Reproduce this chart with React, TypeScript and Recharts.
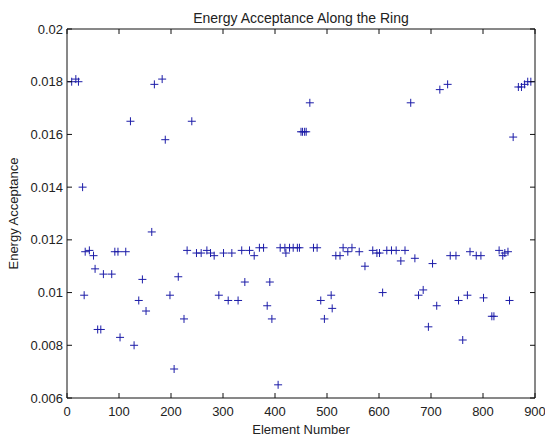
import { ScatterChart, Scatter, XAxis, YAxis } from 'recharts';

// element index along the ring
const elements = [
  9, 17, 22, 30, 33, 35, 43, 51, 54, 59, 65, 70, 86, 92, 98, 102, 113, 122, 129, 138,
  145, 152, 163, 168, 183, 189, 198, 206, 214, 225, 231, 240, 249, 258, 269, 276, 283, 292, 301, 310,
  317, 329, 336, 342, 351, 360, 370, 378, 385, 390, 394, 406, 410, 419, 421, 428, 435, 443, 447, 450,
  453, 457, 460, 467, 474, 481, 488, 495, 508, 510, 517, 525, 531, 540, 548, 562, 573, 588, 596, 601,
  607, 615, 624, 633, 642, 650, 661, 669, 676, 685, 695, 703, 711, 717, 732, 737, 748, 753, 761, 770,
  775, 787, 796, 801, 817, 821, 831, 838, 842, 848, 851, 858, 868, 874, 880, 886, 892,
];

// energy acceptance at each element
const acceptance = [
  0.018, 0.0181, 0.018, 0.014, 0.0099, 0.01155, 0.0116, 0.0114, 0.0109, 0.0086, 0.0086, 0.0107, 0.0107, 0.01155, 0.01155, 0.0083, 0.01155, 0.0165, 0.008, 0.0097,
  0.0105, 0.0093, 0.0123, 0.0179, 0.0181, 0.0158, 0.0099, 0.0071, 0.0106, 0.009, 0.0116, 0.0165, 0.0115, 0.0115, 0.0116, 0.0115, 0.0114, 0.0099, 0.0115, 0.0097,
  0.0115, 0.0097, 0.0116, 0.0104, 0.0116, 0.0114, 0.0117, 0.0117, 0.0095, 0.0104, 0.009, 0.0065, 0.0117, 0.0117, 0.0115, 0.0117, 0.0117, 0.0117, 0.0117, 0.0161,
  0.0161, 0.0161, 0.0161, 0.0172, 0.0117, 0.0117, 0.0097, 0.009, 0.0099, 0.0094, 0.0114, 0.0114, 0.0117, 0.01155, 0.0117, 0.01155, 0.011, 0.0116, 0.0115, 0.0115,
  0.01, 0.0116, 0.0116, 0.0116, 0.0112, 0.0116, 0.0172, 0.0113, 0.0099, 0.0101, 0.0087, 0.0111, 0.0095, 0.0177, 0.0179, 0.0114, 0.0114, 0.0097, 0.0082, 0.0099,
  0.01155, 0.0114, 0.0114, 0.0098, 0.0091, 0.0091, 0.0116, 0.0114, 0.0115, 0.01155, 0.0097, 0.0159, 0.0178, 0.0178, 0.0179, 0.018, 0.018,
];

const xTicks = [0, 100, 200, 300, 400, 500, 600, 700, 800, 900];
const yTicks = [0.006, 0.008, 0.01, 0.012, 0.014, 0.016, 0.018, 0.02];

const data = elements.map((x, i) => ({ x, y: acceptance[i] }));

const FONT = '"Liberation Sans", Arial, sans-serif';
const INK = '#111';
const MARK = '#1c1ca8';
const GAP = 9; // label gap below x axis
const YGAP = 4; // label gap left of y axis
const TICK = 5;

const BottomTick = ({ x, y, payload }: any) => (
  <g>
    <line x1={x} x2={x} y1={y - GAP} y2={y - GAP - TICK} stroke={INK} />
    <text x={x} y={y} dy="0.71em" textAnchor="middle" fontSize={13} fontFamily={FONT} fill="#222">
      {payload.value}
    </text>
  </g>
);

const TopTick = ({ x, y }: any) => (
  <line x1={x} x2={x} y1={y + GAP} y2={y + GAP + TICK} stroke={INK} />
);

const LeftTick = ({ x, y, payload }: any) => (
  <g>
    <line x1={x + YGAP} x2={x + YGAP + TICK} y1={y} y2={y} stroke={INK} />
    <text x={x} y={y} dy="0.355em" textAnchor="end" fontSize={13} fontFamily={FONT} fill="#222">
      {payload.value}
    </text>
  </g>
);

const RightTick = ({ x, y }: any) => (
  <line x1={x - YGAP} x2={x - YGAP - TICK} y1={y} y2={y} stroke={INK} />
);

const Plus = ({ cx, cy }: any) => (
  <path d={`M${cx - 4},${cy}H${cx + 4}M${cx},${cy - 4}V${cy + 4}`} stroke={MARK} strokeWidth={1} fill="none" />
);

// invisible marks so the top/right frame axes get drawn
const Nothing = () => <g />;

export default function App() {
  return (
    <div style={{ position: 'absolute', left: 0, top: 0, width: 545, height: 436, background: '#fff', overflow: 'hidden' }}>
      <div
        style={{
          position: 'absolute',
          top: 10,
          left: 0,
          width: 602,
          textAlign: 'center',
          fontFamily: FONT,
          fontSize: 14,
          color: '#222',
          whiteSpace: 'nowrap',
        }}
      >
        Energy Acceptance Along the Ring
      </div>
      <ScatterChart width={545} height={436} margin={{ top: 28, right: 9, bottom: 0, left: 0 }}>
        <XAxis
          xAxisId="b"
          type="number"
          dataKey="x"
          domain={[0, 900]}
          ticks={xTicks}
          interval={0}
          height={38}
          tickSize={0}
          tickMargin={GAP}
          tickLine={false}
          axisLine={{ stroke: INK }}
          tick={<BottomTick />}
          label={{ value: 'Element Number', position: 'insideBottom', offset: 2, fontSize: 13, fontFamily: FONT, fill: '#222' }}
        />
        <XAxis
          xAxisId="t"
          orientation="top"
          type="number"
          dataKey="x"
          domain={[0, 900]}
          ticks={xTicks}
          interval={0}
          height={1}
          tickSize={0}
          tickMargin={GAP}
          tickLine={false}
          axisLine={{ stroke: INK }}
          tick={<TopTick />}
        />
        <YAxis
          yAxisId="l"
          type="number"
          dataKey="y"
          domain={[0.006, 0.02]}
          ticks={yTicks}
          interval={0}
          width={67}
          tickSize={0}
          tickMargin={YGAP}
          tickLine={false}
          axisLine={{ stroke: INK }}
          tick={<LeftTick />}
          label={{
            value: 'Energy Acceptance',
            angle: -90,
            position: 'insideLeft',
            offset: 13,
            fontSize: 13,
            fontFamily: FONT,
            fill: '#222',
            style: { textAnchor: 'middle' },
          }}
        />
        <YAxis
          yAxisId="r"
          orientation="right"
          type="number"
          dataKey="y"
          domain={[0.006, 0.02]}
          ticks={yTicks}
          interval={0}
          width={1}
          tickSize={0}
          tickMargin={YGAP}
          tickLine={false}
          axisLine={{ stroke: INK }}
          tick={<RightTick />}
        />
        <Scatter xAxisId="b" yAxisId="l" data={data} shape={<Plus />} isAnimationActive={false} />
        <Scatter xAxisId="t" yAxisId="r" data={data} shape={<Nothing />} isAnimationActive={false} />
      </ScatterChart>
    </div>
  );
}
